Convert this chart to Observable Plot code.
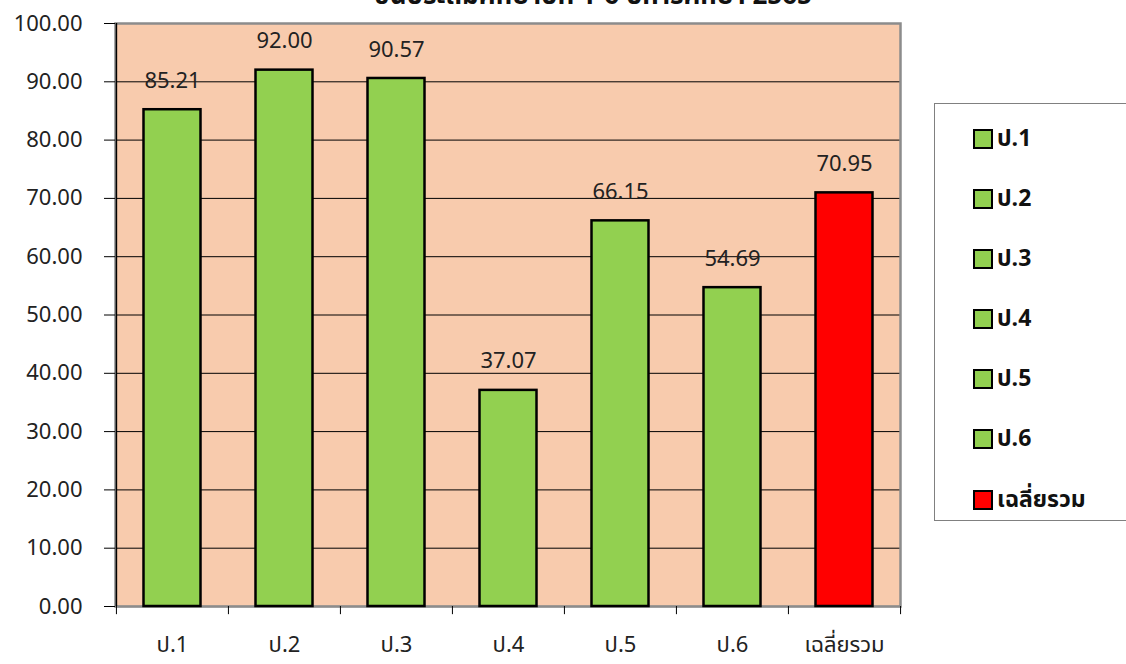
<!DOCTYPE html>
<html><head><meta charset="utf-8">
<script src="https://cdn.jsdelivr.net/npm/d3@7"></script>
<script src="https://cdn.jsdelivr.net/npm/@observablehq/plot@0.6"></script>
<style>
body{margin:0;background:#fff;font-family:Tahoma,"Noto Sans Thai","Noto Sans",sans-serif;overflow:hidden;}
#wrap{position:relative;width:1126px;height:664px;}
#title{position:absolute;left:0;width:1186px;text-align:center;top:-19px;font-size:26px;font-weight:bold;color:#111;line-height:30px;white-space:nowrap;}
#legend{position:absolute;left:934px;top:103px;width:200px;height:418px;border:1.5px solid #808080;box-sizing:border-box;background:#fff;}
.item{position:absolute;left:38px;display:flex;align-items:center;font-size:23px;font-weight:bold;color:#111;}
.sw{width:16px;height:16px;border:2px solid #000;margin-right:4px;}
</style></head>
<body><div id="wrap"><div id="chart"></div><div id="title"></div><div id="legend"></div></div>
<script>
const titleText = "ชั้นประถมศึกษาปีที่ 1-6 ปีการศึกษา 2565";
const categories = ["ป.1","ป.2","ป.3","ป.4","ป.5","ป.6","เฉลี่ยรวม"];
const values = [85.21, 92.00, 90.57, 37.07, 66.15, 54.69, 70.95];
const colors = ["#92D050","#92D050","#92D050","#92D050","#92D050","#92D050","#FF0000"];
const yTicks = [0,10,20,30,40,50,60,70,80,90,100];
const gridTicks = [10,20,30,40,50,60,70,80,90];

const data = categories.map((c,i)=>({cat:c, value:values[i], color:colors[i]}));

const W = 1126, H = 664, mL = 115, mR = 226, mT = 23, mB = 58;
const band = (W - mL - mR) / categories.length;

const chart = Plot.plot({
  width: W, height: H,
  marginLeft: mL, marginRight: mR, marginTop: mT, marginBottom: mB,
  style: {fontFamily: 'Tahoma,"Noto Sans Thai","Noto Sans",sans-serif', background: "transparent"},
  x: {domain: categories, padding: 0, label: null},
  y: {domain: [0, 100], label: null},
  marks: [
    Plot.frame({fill: "#F8CBAD", stroke: "none"}),
    Plot.ruleY(gridTicks, {stroke: "#000", strokeWidth: 1}),
    Plot.frame({stroke: "#8c8c8c", strokeWidth: 2.5, fill: "none"}),
    Plot.ruleY([0], {stroke: "#8c8c8c", strokeWidth: 1.5}),
    Plot.barY(data, {x: "cat", y: "value", fill: d => d.color, stroke: "#000", strokeWidth: 2.5, insetLeft: 27.5, insetRight: 27.5}),
    Plot.text(data, {x: "cat", y: "value", text: d => d3.format(".2f")(d.value), dy: -29, fontSize: 22, fill: "#222"}),
    Plot.ruleX(categories, {x: d => d, dx: -band/2, y1: 0, y2: -1.4, stroke: "#000", strokeWidth: 1, clip: false}),
    Plot.ruleX(categories.slice(-1), {x: d => d, dx: band/2, y1: 0, y2: -1.4, stroke: "#000", strokeWidth: 1}),
    Plot.ruleX(categories.slice(0,1), {x: d => d, dx: -band/2, y1: 0, y2: 100, stroke: "#000", strokeWidth: 1.5}),
    Plot.axisY({ticks: yTicks, tickFormat: d3.format(".2f"), tickSize: 11, tickPadding: 22, fontSize: 22, stroke: "#000", fill: "#222", label: null}),
    Plot.axisX({tickSize: 0, tickPadding: 30, fontSize: 22, fill: "#222", label: null})
  ]
});
document.getElementById("chart").appendChild(chart);
document.getElementById("title").textContent = titleText;

const legend = document.getElementById("legend");
const legendTops = [18, 78, 138, 198, 258, 318, 379];
categories.forEach((c,i)=>{
  const it = document.createElement("div");
  it.className = "item";
  it.style.top = legendTops[i] + "px";
  const sw = document.createElement("div");
  sw.className = "sw"; sw.style.background = colors[i];
  const t = document.createElement("span"); t.textContent = c;
  it.appendChild(sw); it.appendChild(t);
  legend.appendChild(it);
});
</script></body></html>
